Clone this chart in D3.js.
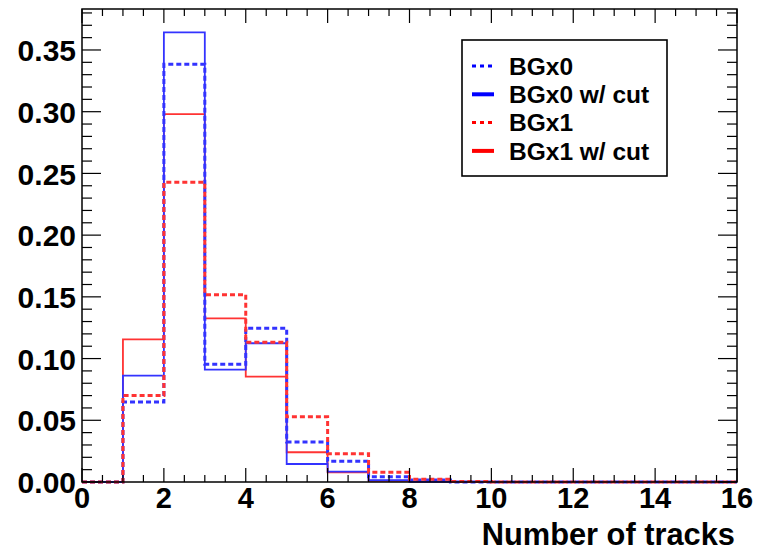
<!DOCTYPE html>
<html lang="en">
<head>
  <meta charset="UTF-8" />
  <title>Number of tracks</title>
  <style>
    body { margin: 0; padding: 0; background: #fff; }
    svg { display: block; font-family: "Liberation Sans", Arial, sans-serif; font-weight: bold; }
  </style>
</head>
<body>
  <svg id="chart"></svg>

  <script src="https://d3js.org/d3.v7.min.js"></script>
  <script>
    // bin edges 0..16, one value per bin
    const binEdges = d3.range(0, 17);
    const bgx0    = [0, 0.0648, 0.3384, 0.0953, 0.1245, 0.0324, 0.0168, 0.0043, 0.0016, 0, 0, 0, 0, 0, 0, 0];
    const bgx0Cut = [0, 0.0861, 0.3643, 0.0910, 0.1124, 0.0146, 0.0084, 0.0016, 0.0002, 0, 0, 0, 0, 0, 0, 0];
    const bgx1    = [0, 0.0700, 0.2428, 0.1518, 0.1132, 0.0529, 0.0229, 0.0079, 0.0022, 0.0005, 0, 0, 0, 0, 0, 0];
    const bgx1Cut = [0, 0.1156, 0.2981, 0.1326, 0.0853, 0.0241, 0.0079, 0.0010, 0.0003, 0, 0, 0, 0, 0, 0, 0];

    const xTicks = [0, 2, 4, 6, 8, 10, 12, 14, 16];
    const yTicks = [0, 0.05, 0.10, 0.15, 0.20, 0.25, 0.30, 0.35];

    const series = [
      { name: "BGx1 w/ cut", values: bgx1Cut, color: "#ff3333", dashed: false },
      { name: "BGx0 w/ cut", values: bgx0Cut, color: "#3333ff", dashed: false },
      { name: "BGx0", values: bgx0, color: "#3333ff", dashed: true },
      { name: "BGx1", values: bgx1, color: "#ff3333", dashed: true }
    ];
    const legendItems = [
      { name: "BGx0", color: "#0000ff", dashed: true },
      { name: "BGx0 w/ cut", color: "#0000ff", dashed: false },
      { name: "BGx1", color: "#ff0000", dashed: true },
      { name: "BGx1 w/ cut", color: "#ff0000", dashed: false }
    ];

    const W = 764, H = 551;
    const frameL = 82, frameR = 737, frameT = 9, frameB = 482;

    const svg = d3.select("#chart").attr("width", W).attr("height", H);

    const x = d3.scaleLinear().domain([0, 16]).range([frameL, frameR]);
    const y = d3.scaleLinear().domain([0, 0.3832]).range([frameB, frameT]);

    // histograms
    const line = d3.line().x(d => x(d[0])).y(d => y(d[1]));
    series.forEach(s => {
      const pts = [[binEdges[0], 0]];
      s.values.forEach((v, i) => {
        pts.push([binEdges[i], v]);
        pts.push([binEdges[i + 1], v]);
      });
      pts.push([binEdges[binEdges.length - 1], 0]);
      svg.append("path")
        .attr("d", line(pts))
        .attr("fill", "none")
        .attr("stroke", s.color)
        .attr("stroke-width", s.dashed ? 3 : 1.8)
        .attr("stroke-dasharray", s.dashed ? "5,3" : null)
        .attr("stroke-linejoin", "miter");
    });

    // frame
    svg.append("rect")
      .attr("x", frameL).attr("y", frameT)
      .attr("width", frameR - frameL).attr("height", frameB - frameT)
      .attr("fill", "none").attr("stroke", "#000").attr("stroke-width", 1.5);

    // ticks on all four sides
    const g = svg.append("g").attr("stroke", "#000").attr("stroke-width", 1.2);
    d3.range(0, 16.01, 0.5).forEach(v => {
      const len = Math.abs(v % 2) < 1e-6 ? 14 : 7;
      g.append("line").attr("x1", x(v)).attr("x2", x(v)).attr("y1", frameB).attr("y2", frameB - len);
      g.append("line").attr("x1", x(v)).attr("x2", x(v)).attr("y1", frameT).attr("y2", frameT + len);
    });
    d3.range(0, 0.381, 0.01).forEach((v, i) => {
      const len = i % 5 === 0 ? 19 : 10;
      g.append("line").attr("y1", y(v)).attr("y2", y(v)).attr("x1", frameL).attr("x2", frameL + len);
      g.append("line").attr("y1", y(v)).attr("y2", y(v)).attr("x1", frameR).attr("x2", frameR - len);
    });

    // tick labels
    svg.selectAll(".xl").data(xTicks).join("text")
      .attr("class", "xl")
      .attr("x", d => x(d)).attr("y", 508)
      .attr("text-anchor", "middle").attr("font-size", 29)
      .text(d => d);
    svg.selectAll(".yl").data(yTicks).join("text")
      .attr("class", "yl")
      .attr("x", 76).attr("y", d => y(d)).attr("dy", "0.37em")
      .attr("text-anchor", "end").attr("font-size", 30)
      .text(d => d.toFixed(2));

    svg.append("text")
      .attr("x", 735).attr("y", 545)
      .attr("text-anchor", "end").attr("font-size", 30.8)
      .text("Number of tracks");

    // legend
    const lg = svg.append("g");
    lg.append("rect")
      .attr("x", 462).attr("y", 40).attr("width", 205).attr("height", 136)
      .attr("fill", "#fff").attr("stroke", "#000").attr("stroke-width", 1.6);
    legendItems.forEach((d, i) => {
      const cy = 66 + i * 28.3;
      lg.append("line")
        .attr("x1", 472).attr("x2", 494).attr("y1", cy).attr("y2", cy)
        .attr("stroke", d.color)
        .attr("stroke-width", d.dashed ? 3 : 4)
        .attr("stroke-dasharray", d.dashed ? "4,4" : null);
      lg.append("text")
        .attr("x", 509).attr("y", cy).attr("dy", "0.36em")
        .attr("font-size", 24.5)
        .text(d.name);
    });
  </script>
</body>
</html>
